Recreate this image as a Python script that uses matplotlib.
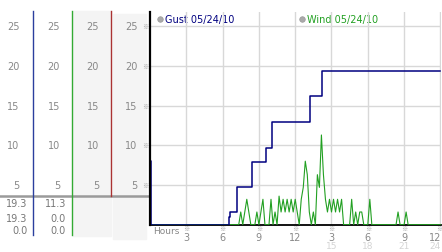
import numpy as np
import matplotlib
matplotlib.use("Agg")
import matplotlib.pyplot as plt
from matplotlib import transforms
from matplotlib.patches import Rectangle

# gust: step changes (hour, mph)
gust_hours = [0, 0.05, 6.55, 6.65, 7.2, 8.45, 9.55, 10.05, 13.2, 14.25, 24]
gust_vals = [8.0, 0.0, 1.0, 1.6, 4.7, 7.9, 9.7, 12.9, 16.2, 19.3, 19.3]

# wind: 10 minute samples, one row per hour
wind_rows = [
    [0, 0, 0, 0, 0, 0],            # 0
    [0, 0, 0, 0, 0, 0],
    [0, 0, 0, 0, 0, 0],
    [0, 0, 0, 0, 0, 0],
    [0, 0, 0, 0, 0, 0],
    [0, 0, 0, 0, 0, 0],            # 5
    [0, 0, 0, 0, 0, 0],
    [0, 0, 0, 1.6, 0, 1.6],
    [3.2, 1.6, 0, 0, 0, 1.6],
    [0, 1.6, 3.2, 0, 0, 0],
    [3.2, 0, 1.6, 0, 3.6, 1.6],    # 10
    [3.2, 1.6, 3.2, 1.6, 3.2, 1.6],
    [3.2, 1.6, 0, 3.2, 4.7, 8.0],
    [6.3, 1.6, 0, 1.6, 0, 6.3],
    [4.7, 11.3, 6.3, 3.2, 1.6, 3.2],
    [1.6, 3.2, 1.6, 3.2, 1.6, 3.2],  # 15
    [0, 0, 0, 0, 3.2, 0],
    [1.6, 0, 1.6, 1.6, 0, 0],
    [0, 3.2, 0, 0, 0, 0],
    [0, 0, 0, 0, 0, 0],
    [0, 0, 0, 1.6, 0, 0],          # 20
    [0, 1.6, 0, 0, 0, 0],
    [0, 0, 0, 0, 0, 0],
    [0, 0, 0, 0, 0, 0],
]
wind_vals = [v for row in wind_rows for v in row] + [0]
wind_hours = np.arange(len(wind_vals)) / 6.0

y_ticks = [5, 10, 15, 20, 25]
x_ticks = [3, 6, 9, 12, 15, 18, 21, 24]
x_labels = ["3", "6", "9", "12", "3", "6", "9", "12"]
x_labels2 = ["", "", "", "", "15", "18", "21", "24"]
legend_names = ["Gust 05/24/10", "Wind 05/24/10"]
col_values = [["19.3", "19.3", "0.0"], ["11.3", "0.0", "0.0"]]

MARK = "\u203b"
MARK_FONT = ["Noto Sans CJK SC", "DejaVu Sans"]

W, H = 442, 253
fig = plt.figure(figsize=(W / 100, H / 100), dpi=100)

# full-figure pixel axes for the side panel
bg = fig.add_axes([0, 0, 1, 1])
bg.set_xlim(0, W)
bg.set_ylim(H, 0)
bg.axis("off")

x0, x1, ytop, ybase = 150, 441, 13, 225.7
ax = fig.add_axes([x0 / W, (H - ybase) / H, (x1 - x0) / W, (ybase - ytop) / H])
ax.set_facecolor("none")
ax.set_xlim(0, 24.05)
ax.set_ylim(0, (ybase - ytop) / 7.94)

ax.set_xticks(x_ticks)
ax.set_yticks(y_ticks)
ax.grid(True, color="#d8d8d8", lw=1)
ax.tick_params(length=0, labelbottom=False, labelleft=False)
for s in ["top", "right"]:
    ax.spines[s].set_visible(False)
ax.spines["left"].set_linewidth(1.6)
ax.spines["bottom"].set_linewidth(1.3)
ax.spines["left"].set_zorder(6)

ax.plot(wind_hours, wind_vals, color="#22a022", lw=0.8, zorder=3)
ax.plot(gust_hours, gust_vals, color="#000080", lw=1.1, drawstyle="steps-post", zorder=4)

# x tick labels (x from data, y in pixels)
xt = transforms.blended_transform_factory(ax.transData, bg.transData)
for t, l1, l2 in zip(x_ticks, x_labels, x_labels2):
    ha = "right" if t == x_ticks[-1] else "center"
    dx = 0.3 if t == x_ticks[-1] else 0
    ax.text(t - 0.1 if ha == "right" else t, 229.5, MARK, transform=xt, ha="center", va="center",
            fontsize=4.5, color="#999999", family=MARK_FONT, clip_on=False)
    ax.text(t - 0.25 + dx if ha == "right" else t, 238.5, l1, transform=xt, ha=ha, va="center",
            fontsize=7, color="#888888", clip_on=False)
    if l2:
        ax.text(t - 0.25 + dx if ha == "right" else t, 247, l2, transform=xt, ha=ha, va="center",
                fontsize=6.5, color="#d4d4d4", clip_on=False)
bg.text(153, 232, "Hours", ha="left", va="center", fontsize=6.5, color="#888888")

# legend
for lx, name, c in zip([160, 302], legend_names, ["#000080", "#22a022"]):
    bg.plot(lx, 20, "o", ms=4, color="#aaaaaa", mec="#999999", mew=0.5)
    bg.text(lx + 5, 20, name, ha="left", va="center", fontsize=7, color=c)

# side panel
bg.add_patch(Rectangle((73, 12), 38, 225, color="#f4f4f4", zorder=0))
bg.add_patch(Rectangle((113, 15), 33, 225, color="#f4f4f4", zorder=0))
bg.plot([0, 149], [196.7, 196.7], color="#9a9a9a", lw=1.8)
bg.plot([33.3, 33.3], [12, 236], color="#2b3f9e", lw=1)
bg.plot([72.3, 72.3], [12, 236], color="#33aa33", lw=1)
bg.plot([111, 111], [12, 197], color="#aa3333", lw=1)

yt = transforms.blended_transform_factory(bg.transData, ax.transData)
for rx in [19.5, 60, 99, 137.5]:
    for v in y_ticks:
        bg.text(rx, v, str(v), transform=yt, ha="right", va="center", fontsize=7, color="#888888")
for v in y_ticks:
    bg.text(145.5, v, MARK, transform=yt, ha="center", va="center", fontsize=4.5,
            color="#999999", family=MARK_FONT)

for rx, vals in zip([27.5, 66], col_values):
    for ry, s in zip([204, 219, 231.5], vals):
        bg.text(rx, ry, s, ha="right", va="center", fontsize=7, color="#777777")

fig.savefig("out.png", dpi=100)
